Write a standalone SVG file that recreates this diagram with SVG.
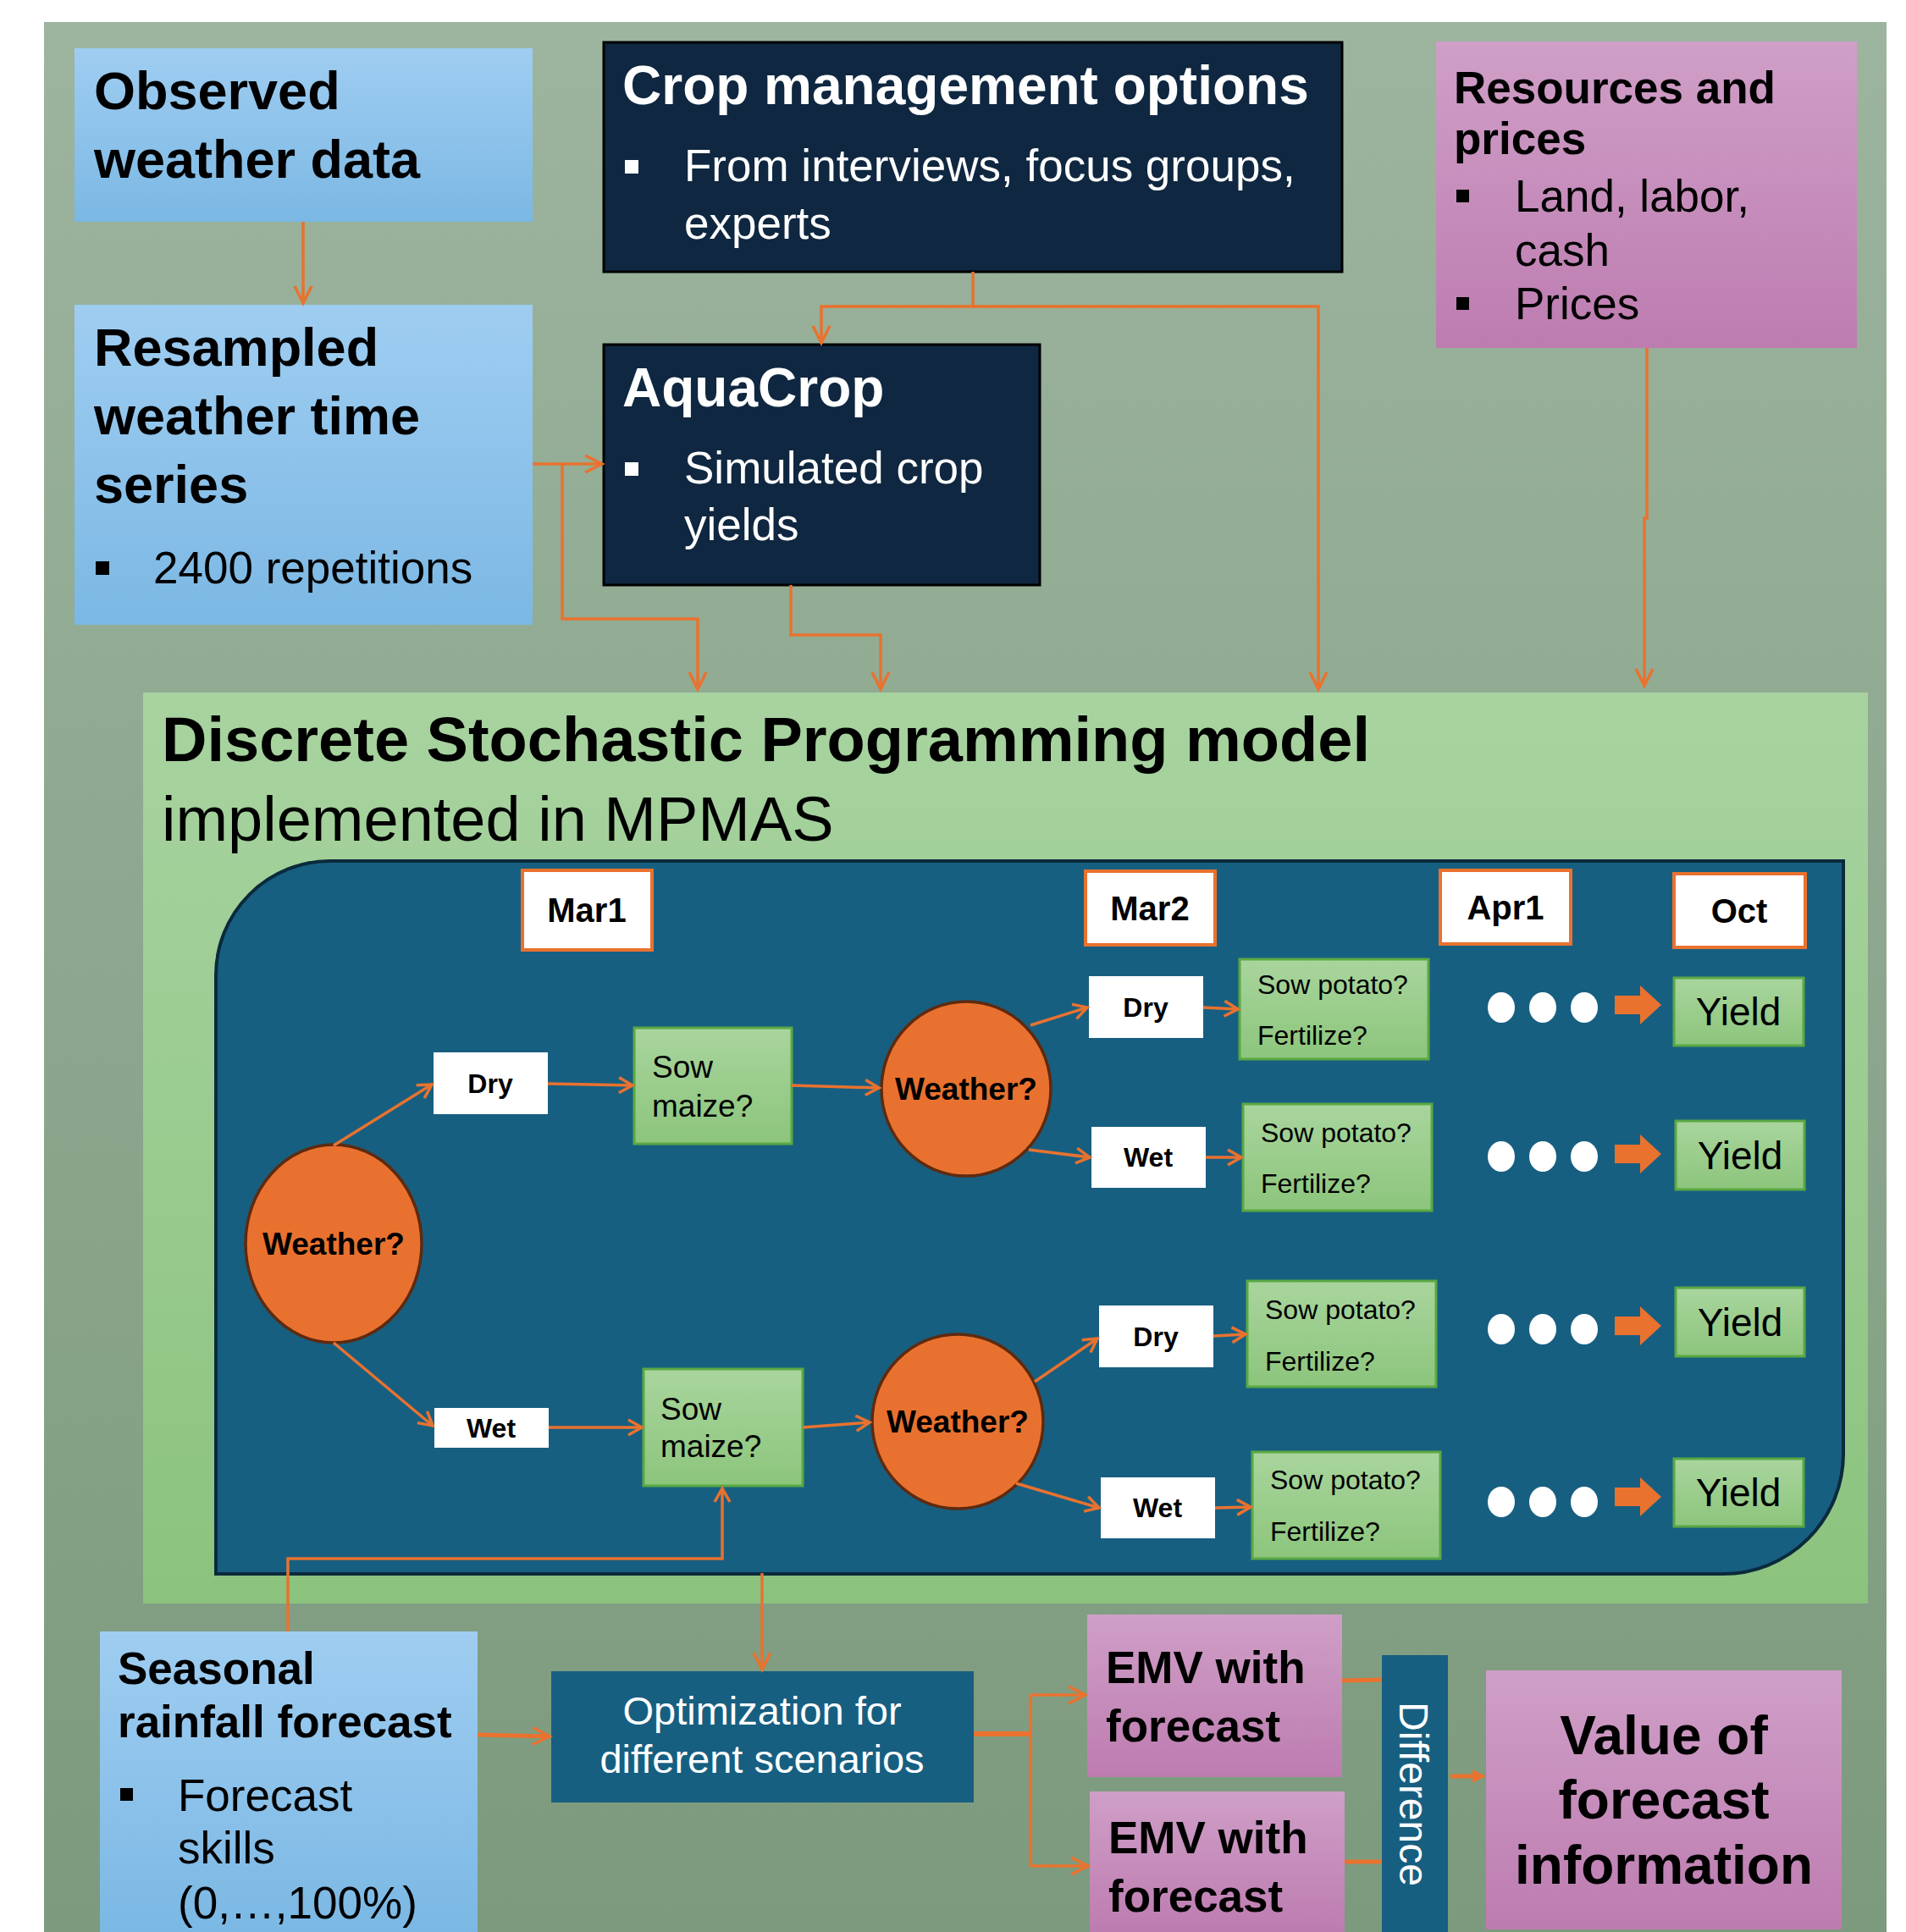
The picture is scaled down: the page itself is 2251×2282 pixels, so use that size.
<svg xmlns="http://www.w3.org/2000/svg" width="2251" height="2282" viewBox="0 0 2251 2282">
<defs>
<linearGradient id="gBg" x1="0" y1="0" x2="0" y2="1"><stop offset="0" stop-color="#9db49e"/><stop offset="1" stop-color="#7c9a7d"/></linearGradient>
<linearGradient id="gBlue" x1="0" y1="0" x2="0" y2="1"><stop offset="0" stop-color="#9fcdf1"/><stop offset="1" stop-color="#7bb8e4"/></linearGradient>
<linearGradient id="gPink" x1="0" y1="0" x2="0" y2="1"><stop offset="0" stop-color="#cf9fc7"/><stop offset="1" stop-color="#bd7cb0"/></linearGradient>
<linearGradient id="gGreen" x1="0" y1="0" x2="0" y2="1"><stop offset="0" stop-color="#a8d3a0"/><stop offset="1" stop-color="#8bc37e"/></linearGradient>
<linearGradient id="gSow" x1="0" y1="0" x2="0" y2="1"><stop offset="0" stop-color="#a9d59d"/><stop offset="1" stop-color="#8cc57c"/></linearGradient>
<marker id="ah" markerUnits="userSpaceOnUse" viewBox="-24 -13 28 26" refX="0" refY="0" markerWidth="28" markerHeight="26" orient="auto">
<path d="M-20,-10 L0,0 L-20,10" fill="none" stroke="#e9722f" stroke-width="3.5"/>
</marker>
<marker id="ahs" markerUnits="userSpaceOnUse" viewBox="-20 -11 24 22" refX="0" refY="0" markerWidth="24" markerHeight="22" orient="auto">
<path d="M-16,-9 L0,0 L-16,9" fill="none" stroke="#e9722f" stroke-width="3.5"/>
</marker>
</defs>
<style>
text{font-family:"Liberation Sans",Arial,sans-serif;}
.b{font-weight:bold;}
.t63{font-size:63px;}
.t53{font-size:53px;}
.wh{fill:#ffffff;}
.bk{fill:#000000;}
.blue{fill:url(#gBlue);}
.pink{fill:url(#gPink);}
.navy{fill:#0f2740;stroke:#000;stroke-width:3;}
.teal{fill:#175f81;}
.date{fill:#fff;stroke:#e9722f;stroke-width:4;}
.wbox{fill:#fff;}
.sow{fill:url(#gSow);stroke:#5aa843;stroke-width:3;}
.wx{fill:#e9712f;stroke:#5e2a0f;stroke-width:3.5;}
.dot{fill:#fff;}
.blk{fill:#e9722f;}
.c{fill:none;stroke:#e9722f;stroke-width:3.5;}
.ca{fill:none;stroke:#e9722f;stroke-width:3.5;marker-end:url(#ah);}
.cs{fill:none;stroke:#e9722f;stroke-width:3.5;marker-end:url(#ahs);}
.wt{font-size:37px;font-weight:bold;text-anchor:middle;}
.dw{font-size:32px;font-weight:bold;text-anchor:middle;}
.dt{font-size:40px;font-weight:bold;text-anchor:middle;}
.sp{font-size:32px;}
.sm{font-size:37px;}
.yl{font-size:46px;text-anchor:middle;}
</style>
<rect x="0" y="0" width="2251" height="2282" fill="#ffffff"/>
<rect x="52" y="26" width="2176" height="2256" fill="url(#gBg)"/>

<g id="observed">
<rect x="88" y="57" width="541" height="205" class="blue"/>
<text x="111" y="129" class="b t63">Observed</text>
<text x="111" y="210" class="b t63">weather data</text>
</g>

<g id="resampled">
<rect x="88" y="360" width="541" height="378" class="blue"/>
<text x="111" y="432" class="b t63">Resampled</text>
<text x="111" y="513" class="b t63">weather time</text>
<text x="111" y="594" class="b t63">series</text>
<rect x="113" y="663" width="16" height="16" class="bk"/>
<text x="181" y="689" class="t53">2400 repetitions</text>
</g>

<g id="cropmgmt">
<rect x="713" y="50" width="872" height="271" class="navy"/>
<text x="735" y="123" class="b wh" font-size="64">Crop management options</text>
<rect x="738" y="189" width="16" height="16" class="wh"/>
<text x="808" y="214" class="t53 wh">From interviews, focus groups,</text>
<text x="808" y="282" class="t53 wh">experts</text>
</g>

<g id="aquacrop">
<rect x="713" y="407" width="515" height="284" class="navy"/>
<text x="735" y="480" class="b wh" font-size="64">AquaCrop</text>
<rect x="738" y="546" width="16" height="16" class="wh"/>
<text x="808" y="571" class="t53 wh">Simulated crop</text>
<text x="808" y="638" class="t53 wh">yields</text>
</g>

<g id="resources">
<rect x="1696" y="49" width="497" height="362" class="pink"/>
<text x="1717" y="122" class="b t53">Resources and</text>
<text x="1717" y="182" class="b t53">prices</text>
<rect x="1720" y="224" width="15" height="15" class="bk"/>
<text x="1789" y="250" class="t53">Land, labor,</text>
<text x="1789" y="314" class="t53">cash</text>
<rect x="1720" y="351" width="15" height="15" class="bk"/>
<text x="1789" y="377" class="t53">Prices</text>
</g>

<g id="dsp">
<rect x="169" y="818" width="2037" height="1076" fill="url(#gGreen)"/>
<text x="191" y="899" class="b" font-size="74">Discrete Stochastic Programming model</text>
<text x="191" y="993" font-size="74">implemented in MPMAS</text>
</g>

<g id="tree">
<path d="M390,1017 H2177 V1717 A142,142 0 0 1 2035,1859 H255 V1152 A135,135 0 0 1 390,1017 Z" fill="#175f81" stroke="#0b2a3c" stroke-width="4"/>
</g>

<g id="mar1"><rect x="617" y="1028" width="153" height="94" class="date"/><text x="693" y="1089" class="dt">Mar1</text></g>
<g id="mar2"><rect x="1282" y="1029" width="153" height="87" class="date"/><text x="1358" y="1087" class="dt">Mar2</text></g>
<g id="apr1"><rect x="1701" y="1028" width="154" height="87" class="date"/><text x="1778" y="1086" class="dt">Apr1</text></g>
<g id="oct"><rect x="1977" y="1032" width="155" height="87" class="date"/><text x="2054" y="1090" class="dt">Oct</text></g>

<g id="weather1"><ellipse cx="394" cy="1469" rx="104" ry="117" class="wx"/><text x="394" y="1482" class="wt">Weather?</text></g>
<g id="weather2"><ellipse cx="1141" cy="1286" rx="100" ry="103" class="wx"/><text x="1141" y="1299" class="wt">Weather?</text></g>
<g id="weather3"><ellipse cx="1131" cy="1679" rx="101" ry="103" class="wx"/><text x="1131" y="1692" class="wt">Weather?</text></g>

<g id="dry1"><rect x="512" y="1243" width="135" height="73" class="wbox"/><text x="579" y="1291" class="dw">Dry</text></g>
<g id="wet1"><rect x="513" y="1663" width="135" height="47" class="wbox"/><text x="580" y="1698" class="dw">Wet</text></g>
<g id="dry2"><rect x="1286" y="1153" width="135" height="73" class="wbox"/><text x="1353" y="1201" class="dw">Dry</text></g>
<g id="wet2"><rect x="1289" y="1331" width="135" height="72" class="wbox"/><text x="1356" y="1378" class="dw">Wet</text></g>
<g id="dry3"><rect x="1298" y="1542" width="135" height="73" class="wbox"/><text x="1365" y="1590" class="dw">Dry</text></g>
<g id="wet3"><rect x="1300" y="1745" width="135" height="72" class="wbox"/><text x="1367" y="1792" class="dw">Wet</text></g>

<g id="sowmaize1"><rect x="749" y="1214" width="186" height="137" class="sow"/><text x="770" y="1273" class="sm">Sow</text><text x="770" y="1319" class="sm">maize?</text></g>
<g id="sowmaize2"><rect x="760" y="1617" width="188" height="138" class="sow"/><text x="780" y="1677" class="sm">Sow</text><text x="780" y="1721" class="sm">maize?</text></g>

<g id="sowpotato1"><rect x="1464" y="1133" width="223" height="118" class="sow"/><text x="1485" y="1174" class="sp">Sow potato?</text><text x="1485" y="1234" class="sp">Fertilize?</text></g>
<g id="sowpotato2"><rect x="1468" y="1304" width="223" height="126" class="sow"/><text x="1489" y="1349" class="sp">Sow potato?</text><text x="1489" y="1409" class="sp">Fertilize?</text></g>
<g id="sowpotato3"><rect x="1473" y="1513" width="223" height="125" class="sow"/><text x="1494" y="1558" class="sp">Sow potato?</text><text x="1494" y="1619" class="sp">Fertilize?</text></g>
<g id="sowpotato4"><rect x="1479" y="1715" width="222" height="126" class="sow"/><text x="1500" y="1759" class="sp">Sow potato?</text><text x="1500" y="1820" class="sp">Fertilize?</text></g>

<g id="dots1"><ellipse cx="1773" cy="1190" rx="16" ry="18" class="dot"/><ellipse cx="1822" cy="1190" rx="16" ry="18" class="dot"/><ellipse cx="1871" cy="1190" rx="16" ry="18" class="dot"/><polygon points="1907,1176 1937,1176 1937,1164 1962,1187 1937,1210 1937,1198 1907,1198" class="blk"/></g>
<g id="dots2"><ellipse cx="1773" cy="1366" rx="16" ry="18" class="dot"/><ellipse cx="1822" cy="1366" rx="16" ry="18" class="dot"/><ellipse cx="1871" cy="1366" rx="16" ry="18" class="dot"/><polygon points="1907,1352 1937,1352 1937,1340 1962,1363 1937,1386 1937,1374 1907,1374" class="blk"/></g>
<g id="dots3"><ellipse cx="1773" cy="1570" rx="16" ry="18" class="dot"/><ellipse cx="1822" cy="1570" rx="16" ry="18" class="dot"/><ellipse cx="1871" cy="1570" rx="16" ry="18" class="dot"/><polygon points="1907,1555 1937,1555 1937,1543 1962,1566 1937,1589 1937,1577 1907,1577" class="blk"/></g>
<g id="dots4"><ellipse cx="1773" cy="1774" rx="16" ry="18" class="dot"/><ellipse cx="1822" cy="1774" rx="16" ry="18" class="dot"/><ellipse cx="1871" cy="1774" rx="16" ry="18" class="dot"/><polygon points="1907,1757 1937,1757 1937,1745 1962,1768 1937,1791 1937,1779 1907,1779" class="blk"/></g>

<g id="yield1"><rect x="1977" y="1155" width="153" height="80" class="sow"/><text x="2053" y="1211" class="yl">Yield</text></g>
<g id="yield2"><rect x="1979" y="1324" width="152" height="81" class="sow"/><text x="2055" y="1381" class="yl">Yield</text></g>
<g id="yield3"><rect x="1979" y="1521" width="152" height="81" class="sow"/><text x="2055" y="1578" class="yl">Yield</text></g>
<g id="yield4"><rect x="1977" y="1723" width="153" height="80" class="sow"/><text x="2053" y="1779" class="yl">Yield</text></g>

<g id="seasonal">
<rect x="118" y="1927" width="446" height="355" class="blue"/>
<text x="139" y="1989" class="b t53">Seasonal</text>
<text x="139" y="2052" class="b t53">rainfall forecast</text>
<rect x="142" y="2112" width="15" height="15" class="bk"/>
<text x="210" y="2139" class="t53">Forecast</text>
<text x="210" y="2201" class="t53">skills</text>
<text x="210" y="2266" class="t53">(0,…,100%)</text>
</g>

<g id="optimization">
<rect x="651" y="1974" width="499" height="155" class="teal"/>
<text x="900" y="2037" class="wh" font-size="47" text-anchor="middle">Optimization for</text>
<text x="900" y="2094" class="wh" font-size="47" text-anchor="middle">different scenarios</text>
</g>

<g id="emv1"><rect x="1284" y="1907" width="301" height="192" class="pink"/><text x="1306" y="1988" class="b t53">EMV with</text><text x="1306" y="2057" class="b t53">forecast</text></g>
<g id="emv2"><rect x="1287" y="2116" width="301" height="166" class="pink"/><text x="1309" y="2189" class="b t53">EMV with</text><text x="1309" y="2258" class="b t53">forecast</text></g>

<g id="difference"><rect x="1632" y="1955" width="78" height="327" class="teal"/><text transform="translate(1653,2119) rotate(90)" x="0" y="0" class="wh" font-size="48" text-anchor="middle">Difference</text></g>

<g id="value"><rect x="1755" y="1973" width="420" height="306" class="pink"/>
<text x="1965" y="2072" class="b" font-size="64" text-anchor="middle">Value of</text>
<text x="1965" y="2148" class="b" font-size="64" text-anchor="middle">forecast</text>
<text x="1965" y="2225" class="b" font-size="64" text-anchor="middle">information</text></g>

<g id="connectors">
<path d="M358,262 V358" class="ca"/>
<path d="M629,548 H711" class="ca"/>
<path d="M664,548 V731 H824 V814" class="ca"/>
<path d="M934,691 V750 H1040 V814" class="ca"/>
<path d="M1149,321 V362 H970 V405" class="ca"/>
<path d="M1149,362 H1557 V814" class="ca"/>
<path d="M1945,411 V612 H1942 V810" class="ca"/>

<path d="M394,1353 L510,1281" class="cs"/>
<path d="M394,1586 L511,1684" class="cs"/>
<path d="M647,1280 L747,1282" class="cs"/>
<path d="M648,1686 L758,1686" class="cs"/>
<path d="M935,1282 L1038,1285" class="cs"/>
<path d="M948,1686 L1027,1680" class="cs"/>
<path d="M1217,1211 L1284,1190" class="cs"/>
<path d="M1215,1358 L1287,1367" class="cs"/>
<path d="M1222,1632 L1296,1581" class="cs"/>
<path d="M1200,1752 L1298,1781" class="cs"/>
<path d="M1421,1190 L1462,1192" class="cs"/>
<path d="M1424,1367 L1466,1367" class="cs"/>
<path d="M1433,1578 L1471,1576" class="cs"/>
<path d="M1435,1781 L1477,1780" class="cs"/>

<path d="M340,1927 V1841 H853 V1758" class="cs"/>
<path d="M900,1858 V1972" class="ca"/>
<path d="M564,2049 L649,2051" fill="none" stroke="#e9722f" stroke-width="5" marker-end="url(#ah)"/>
<path d="M1150,2048 H1217" fill="none" stroke="#e9722f" stroke-width="6"/>
<path d="M1217,2002 V2204" class="c"/>
<path d="M1217,2002 H1282" class="ca"/>
<path d="M1217,2204 H1285" class="ca"/>
<path d="M1585,1985 L1632,1984" fill="none" stroke="#e9722f" stroke-width="5"/>
<path d="M1588,2199 H1632" fill="none" stroke="#e9722f" stroke-width="5"/>
<path d="M1713,2098 H1740" fill="none" stroke="#e9722f" stroke-width="5"/>
<polygon points="1739,2090 1755,2098 1739,2106" fill="#e9722f"/>
</g>
</svg>
